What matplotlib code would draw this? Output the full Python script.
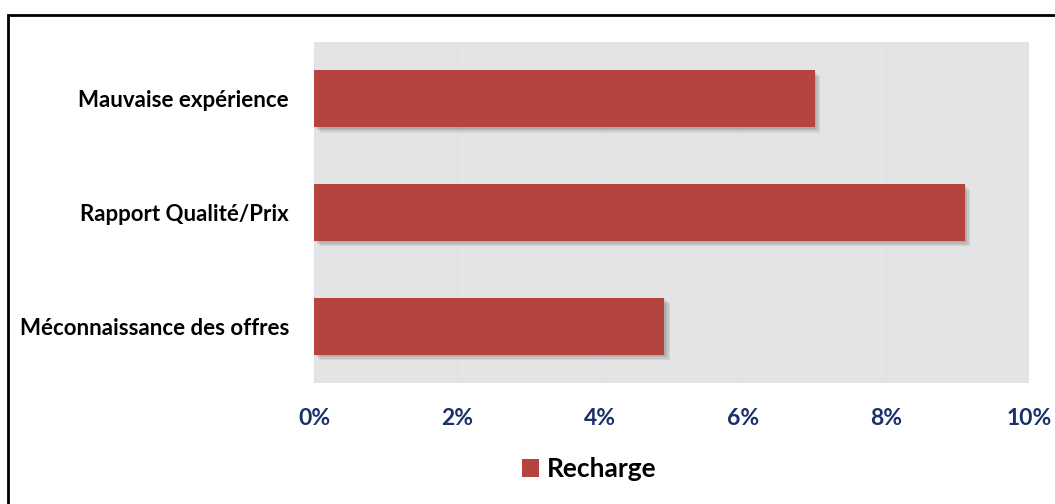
import matplotlib
matplotlib.use("Agg")
import matplotlib.pyplot as plt
import matplotlib.patheffects as pe
from matplotlib.patches import Rectangle, Patch
from matplotlib.ticker import FuncFormatter

categories = ["Méconnaissance des offres", "Rapport Qualité/Prix", "Mauvaise expérience"]
recharge = [4.9, 9.1, 7.0]
xticks = [0, 2, 4, 6, 8, 10]

bar_color = "#B5443F"
tick_color = "#1A3068"

plt.rcParams["font.family"] = ["Lato", "DejaVu Sans"]

fig = plt.figure(figsize=(10.55, 5.04), dpi=100)
ax = fig.add_axes([314 / 1055, 1 - 383 / 504, 715 / 1055, 341 / 504])
ax.set_facecolor("#E4E4E4")

bars = ax.barh(range(len(categories)), recharge, height=0.5, color=bar_color, zorder=3)
# soft drop shadow: a few faint offset copies
shadow = [pe.SimplePatchShadow(offset=(o, -o), alpha=0.09, shadow_rgbFace="#333333")
          for o in (1, 2, 3, 4)]
for b in bars:
    b.set_path_effects(shadow + [pe.Normal()])

ax.set_xlim(0, 10)
ax.set_ylim(-0.5, 2.5)
ax.set_xticks(xticks)
ax.xaxis.set_major_formatter(FuncFormatter(lambda v, p: "%d%%" % v))
ax.grid(axis="x", color="#DCE2EA", linewidth=1, zorder=1)
ax.set_yticks(range(len(categories)))
ax.set_yticklabels(categories, fontsize=16, fontweight="bold", color="black")
ax.tick_params(axis="y", length=0, pad=18)
ax.tick_params(axis="x", length=0, pad=18, labelsize=16.5, labelcolor=tick_color)
for lbl in ax.get_xticklabels():
    lbl.set_fontweight("bold")
for s in ax.spines.values():
    s.set_visible(False)

fig.legend(handles=[Patch(facecolor=bar_color)], labels=["Recharge"], loc="center",
           bbox_to_anchor=(589 / 1055, 1 - 469 / 504), frameon=False,
           prop={"size": 19, "weight": "bold"}, handlelength=0.65, handleheight=0.65,
           handletextpad=0.3)

# frame around the whole chart
fig.patches.append(Rectangle((8 / 1055, -0.1), 1.2, 1 - 14.5 / 504 + 0.1,
                             transform=fig.transFigure, fill=False,
                             edgecolor="black", linewidth=2))

fig.savefig("out.png", dpi=100)
